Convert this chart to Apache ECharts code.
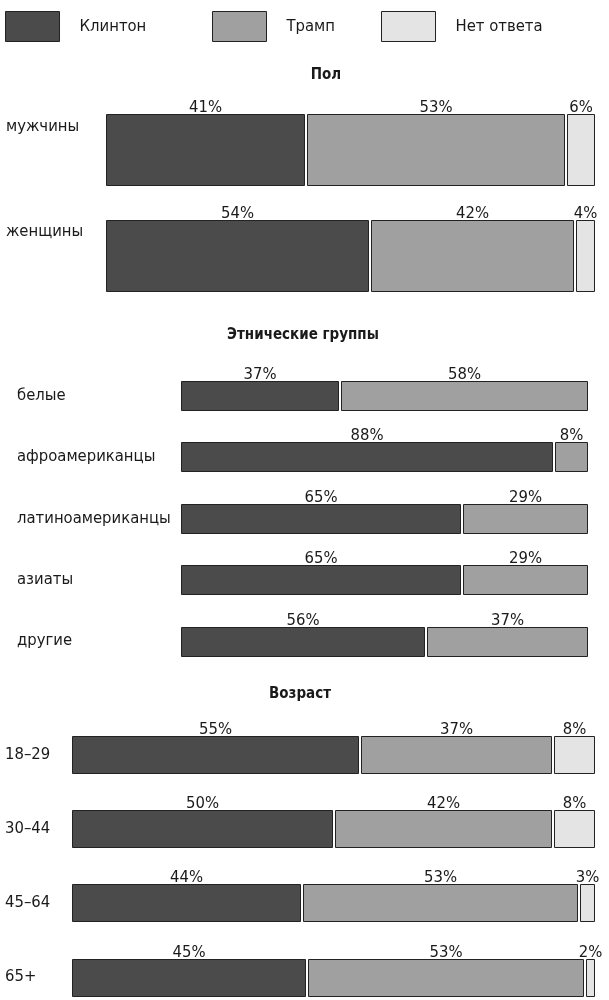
<!DOCTYPE html>
<html>
<head>
<meta charset="utf-8">
<script src="https://cdn.jsdelivr.net/npm/echarts@6/dist/echarts.min.js"></script>
<style>
html,body{margin:0;padding:0;background:#fff;}
#chart{width:609px;height:1000px;}
</style>
</head>
<body>
<div id="chart"></div>
<script>
// ---- data ----
const seriesNames = ['Клинтон', 'Трамп', 'Нет ответа'];
const sectionTitles = ['Пол', 'Этнические группы', 'Возраст'];

const genderCats = ['мужчины', 'женщины'];
const genderClinton = [41, 54];
const genderTrump = [53, 42];
const genderNone = [6, 4];

const ethnicCats = ['белые', 'афроамериканцы', 'латиноамериканцы', 'азиаты', 'другие'];
const ethnicClinton = [37, 88, 65, 65, 56];
const ethnicTrump = [58, 8, 29, 29, 37];

const ageCats = ['18–29', '30–44', '45–64', '65+'];
const ageClinton = [55, 50, 44, 45];
const ageTrump = [37, 42, 53, 53];
const ageNone = [8, 8, 3, 2];

// ---- style ----
const FONT = "'DejaVu Sans Condensed', 'Liberation Sans Narrow', sans-serif";
const COLORS = ['#4b4b4b', '#a0a0a0', '#e4e4e4'];
const STROKE = '#222222';
const TXT = '#1a1a1a';
const LABEL_SIZE = 16.5;

function buildSeries(gridIndex, cats, valueLists, barRatio) {
  const totals = cats.map((c, i) => valueLists.reduce((s, v) => s + v[i], 0));
  const cum = cats.map(() => 0);
  return valueLists.map((vals, k) => {
    const data = cats.map((c, i) => {
      const start = cum[i];
      const end = start + vals[i] / totals[i] * 100;
      cum[i] = end;
      return [i, start, end, vals[i]];
    });
    const color = COLORS[k];
    return {
      type: 'custom',
      name: seriesNames[k],
      xAxisIndex: gridIndex,
      yAxisIndex: gridIndex,
      itemStyle: { color: color, borderColor: STROKE, borderWidth: 1 },
      encode: { x: [1, 2], y: 0 },
      data: data,
      renderItem: function (params, api) {
        const i = api.value(0), s = api.value(1), e = api.value(2), raw = api.value(3);
        const a = api.coord([s, i]);
        const b = api.coord([e, i]);
        const band = api.size([0, 1])[1];
        const h = Math.round(band * barRatio);
        const gl = s > 0.001 ? 1 : 0;
        const gr = e < 99.999 ? 1 : 0;
        const x = Math.round(a[0] + gl) + 0.5;
        const x2 = Math.round(b[0] - gr) - 0.5;
        const y = Math.round(a[1] - h / 2) + 0.5;
        return {
          type: 'group',
          children: [
            { type: 'rect', shape: { x: x, y: y, width: x2 - x, height: h },
              style: { fill: color, stroke: STROKE, lineWidth: 1 } },
            { type: 'text', style: { text: raw + '%', x: (x + x2) / 2, y: y + 2,
              align: 'center', verticalAlign: 'bottom', fontSize: LABEL_SIZE,
              fontFamily: FONT, fill: TXT } }
          ]
        };
      }
    };
  });
}

// category positions are at ticks (boundaryGap false): top = first row centre, height = last - first
const grids = [
  { left: 106, right: 14, top: 149.5, height: 105.5 },
  { left: 181, right: 21, top: 395.5, height: 245.5 },
  { left: 72, right: 14, top: 754.5, height: 222.5 }
];
const catLists = [genderCats, ethnicCats, ageCats];
const labelCfg = [
  { margin: 100, verticalAlign: 'bottom', lineHeight: 46 },
  { margin: 164, verticalAlign: 'middle', lineHeight: 20 },
  { margin: 67, verticalAlign: 'middle', lineHeight: 20 }
];

const xAxes = grids.map((g, i) => ({ type: 'value', gridIndex: i, min: 0, max: 100, show: false }));
const yAxes = grids.map((g, i) => ({
  type: 'category', gridIndex: i, data: catLists[i], inverse: true, boundaryGap: false,
  axisLine: { show: false }, axisTick: { show: false }, splitLine: { show: false },
  axisLabel: { align: 'left', margin: labelCfg[i].margin, verticalAlign: labelCfg[i].verticalAlign,
    lineHeight: labelCfg[i].lineHeight, fontSize: LABEL_SIZE, fontFamily: FONT, color: TXT }
}));

const series = [].concat(
  buildSeries(0, genderCats, [genderClinton, genderTrump, genderNone], 0.673),
  buildSeries(1, ethnicCats, [ethnicClinton, ethnicTrump], 0.47),
  buildSeries(2, ageCats, [ageClinton, ageTrump, ageNone], 0.5)
);

const legendBase = {
  icon: 'rect', itemWidth: 54, itemHeight: 30, top: 11, padding: 0,
  selectedMode: false,
  itemStyle: { borderColor: STROKE, borderWidth: 1 },
  textStyle: { fontSize: 16.5, fontFamily: FONT, color: TXT, padding: [0, 0, 0, 15] }
};
const legendLefts = [5, 212, 381];

const titleCfg = [
  { left: 326, top: 68 },
  { left: 303, top: 328 },
  { left: 300, top: 687 }
];

const option = {
  backgroundColor: '#fff',
  animation: false,
  title: sectionTitles.map((t, i) => ({
    text: t, left: titleCfg[i].left, top: titleCfg[i].top, textAlign: 'center', padding: 0,
    textStyle: { fontSize: 15, fontWeight: 'bold', fontFamily: FONT, color: TXT }
  })),
  legend: seriesNames.map((n, i) => Object.assign({}, legendBase, { data: [n], left: legendLefts[i] })),
  grid: grids,
  xAxis: xAxes,
  yAxis: yAxes,
  series: series
};

const chart = echarts.init(document.getElementById('chart'), null, { renderer: 'canvas' });
chart.setOption(option);
</script>
</body>
</html>
